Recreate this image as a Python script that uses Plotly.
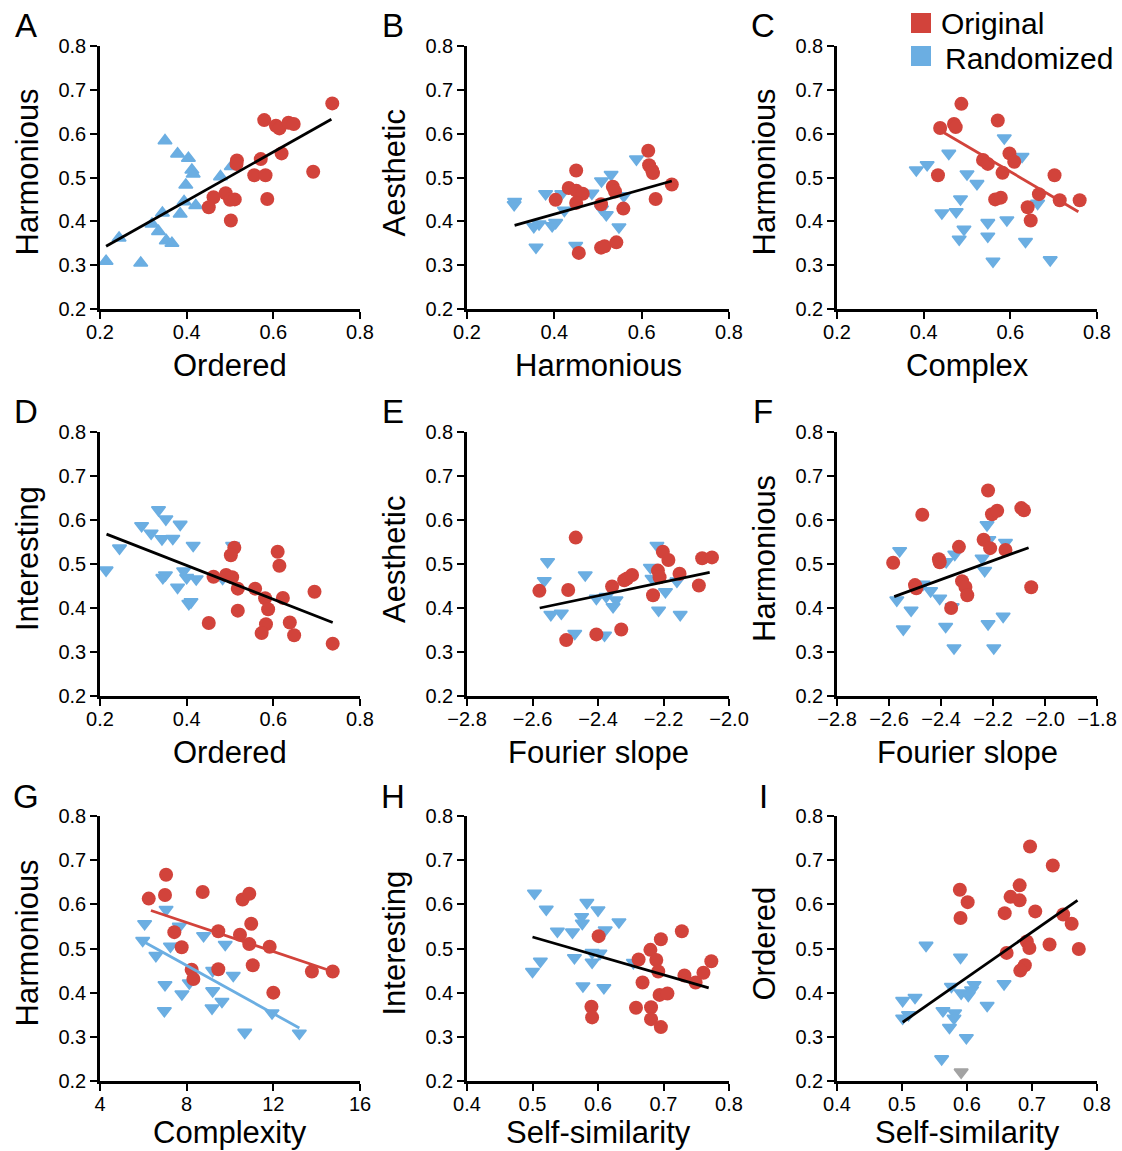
import plotly.graph_objects as go

# ---------------- DATA ----------------
# Panel A: Ordered (x) vs Harmonious (y)
A_orig_x = [0.736, 0.579, 0.606, 0.614, 0.635, 0.647, 0.619, 0.571, 0.516, 0.515, 0.556, 0.582, 0.692, 0.490, 0.462, 0.451, 0.500, 0.511, 0.586, 0.502]
A_orig_y = [0.669, 0.631, 0.618, 0.612, 0.625, 0.622, 0.555, 0.542, 0.539, 0.531, 0.505, 0.505, 0.513, 0.464, 0.455, 0.432, 0.449, 0.450, 0.451, 0.402]
A_rand_x = [0.350, 0.379, 0.404, 0.412, 0.415, 0.478, 0.503, 0.398, 0.394, 0.421, 0.385, 0.344, 0.320, 0.335, 0.353, 0.366, 0.244, 0.214, 0.294]
A_rand_y = [0.584, 0.554, 0.544, 0.517, 0.508, 0.502, 0.525, 0.483, 0.445, 0.436, 0.417, 0.419, 0.394, 0.377, 0.356, 0.350, 0.362, 0.309, 0.305]
A_fit_x = [0.214, 0.734]
A_fit_y = [0.343, 0.633]

# Panel B: Harmonious (x) vs Aesthetic (y)
B_orig_x = [0.615, 0.617, 0.624, 0.626, 0.669, 0.632, 0.450, 0.433, 0.450, 0.465, 0.403, 0.450, 0.507, 0.534, 0.539, 0.558, 0.542, 0.507, 0.515, 0.456]
B_orig_y = [0.561, 0.528, 0.516, 0.510, 0.484, 0.451, 0.516, 0.476, 0.470, 0.463, 0.449, 0.442, 0.439, 0.479, 0.468, 0.429, 0.352, 0.340, 0.343, 0.328]
B_rand_x = [0.588, 0.530, 0.508, 0.486, 0.441, 0.417, 0.380, 0.309, 0.308, 0.423, 0.508, 0.519, 0.559, 0.548, 0.403, 0.395, 0.365, 0.353, 0.358, 0.449]
B_rand_y = [0.542, 0.507, 0.492, 0.464, 0.476, 0.463, 0.463, 0.445, 0.438, 0.425, 0.428, 0.415, 0.458, 0.387, 0.397, 0.390, 0.394, 0.388, 0.341, 0.345]
B_fit_x = [0.309, 0.669]
B_fit_y = [0.391, 0.492]

# Panel C: Complex (x) vs Harmonious (y)
C_orig_x = [0.487, 0.438, 0.470, 0.474, 0.571, 0.598, 0.609, 0.537, 0.548, 0.582, 0.433, 0.702, 0.666, 0.714, 0.760, 0.565, 0.578, 0.640, 0.647]
C_orig_y = [0.668, 0.613, 0.622, 0.615, 0.630, 0.555, 0.536, 0.540, 0.531, 0.511, 0.505, 0.505, 0.462, 0.448, 0.448, 0.450, 0.454, 0.432, 0.402]
C_rand_x = [0.586, 0.627, 0.458, 0.383, 0.408, 0.500, 0.523, 0.485, 0.442, 0.475, 0.493, 0.482, 0.548, 0.548, 0.592, 0.663, 0.635, 0.560, 0.692]
C_rand_y = [0.590, 0.548, 0.555, 0.517, 0.529, 0.508, 0.486, 0.451, 0.419, 0.422, 0.382, 0.359, 0.397, 0.366, 0.403, 0.441, 0.354, 0.309, 0.312]
C_fit_x = [0.447, 0.757]
C_fit_y = [0.602, 0.422]

# Panel D: Ordered (x) vs Interesting (y)
D_orig_x = [0.510, 0.502, 0.610, 0.614, 0.462, 0.491, 0.505, 0.518, 0.558, 0.581, 0.622, 0.695, 0.588, 0.518, 0.451, 0.583, 0.573, 0.638, 0.648, 0.737]
D_orig_y = [0.537, 0.520, 0.528, 0.496, 0.471, 0.475, 0.470, 0.444, 0.444, 0.422, 0.423, 0.437, 0.397, 0.394, 0.366, 0.363, 0.343, 0.367, 0.338, 0.319]
D_rand_x = [0.335, 0.352, 0.296, 0.318, 0.343, 0.368, 0.385, 0.415, 0.245, 0.214, 0.506, 0.351, 0.345, 0.393, 0.400, 0.422, 0.379, 0.410, 0.405, 0.483]
D_rand_y = [0.623, 0.602, 0.587, 0.570, 0.557, 0.558, 0.590, 0.542, 0.536, 0.486, 0.542, 0.475, 0.469, 0.484, 0.469, 0.466, 0.447, 0.414, 0.410, 0.467]
D_fit_x = [0.215, 0.737]
D_fit_y = [0.568, 0.367]

# Panel E: Fourier slope (x) vs Aesthetic (y)
E_orig_x = [-2.468, -2.579, -2.491, -2.497, -2.405, -2.329, -2.357, -2.320, -2.311, -2.296, -2.232, -2.217, -2.212, -2.202, -2.185, -2.151, -2.092, -2.082, -2.052]
E_orig_y = [0.560, 0.439, 0.441, 0.327, 0.340, 0.351, 0.449, 0.463, 0.467, 0.475, 0.429, 0.485, 0.470, 0.528, 0.509, 0.478, 0.451, 0.513, 0.515]
E_rand_x = [-2.220, -2.240, -2.235, -2.554, -2.564, -2.439, -2.405, -2.375, -2.345, -2.354, -2.194, -2.159, -2.544, -2.512, -2.471, -2.380, -2.215, -2.149]
E_rand_y = [0.542, 0.492, 0.467, 0.505, 0.462, 0.475, 0.422, 0.426, 0.418, 0.403, 0.437, 0.461, 0.385, 0.388, 0.342, 0.338, 0.395, 0.385]
E_fit_x = [-2.578, -2.059]
E_fit_y = [0.400, 0.481]

# Panel F: Fourier slope (x) vs Harmonious (y)
F_orig_x = [-2.219, -2.472, -2.204, -2.184, -2.091, -2.081, -2.236, -2.211, -2.331, -2.152, -2.408, -2.405, -2.584, -2.500, -2.495, -2.319, -2.306, -2.299, -2.053, -2.361]
F_orig_y = [0.667, 0.612, 0.613, 0.621, 0.627, 0.622, 0.555, 0.536, 0.539, 0.532, 0.511, 0.504, 0.503, 0.452, 0.445, 0.461, 0.448, 0.429, 0.447, 0.400]
F_rand_x = [-2.223, -2.216, -2.152, -2.559, -2.347, -2.380, -2.242, -2.232, -2.469, -2.440, -2.405, -2.570, -2.515, -2.545, -2.382, -2.357, -2.350, -2.219, -2.161, -2.197]
F_rand_y = [0.589, 0.555, 0.549, 0.530, 0.522, 0.505, 0.513, 0.485, 0.454, 0.439, 0.422, 0.418, 0.395, 0.352, 0.358, 0.403, 0.309, 0.364, 0.381, 0.309]
F_fit_x = [-2.580, -2.063]
F_fit_y = [0.426, 0.537]

# Panel G: Complexity (x) vs Harmonious (y)
G_orig_x = [7.05, 6.25, 7.00, 8.74, 10.58, 10.89, 10.98, 9.46, 10.46, 10.89, 11.83, 7.43, 7.77, 8.23, 8.31, 9.46, 11.05, 12.00, 13.78, 14.74]
G_orig_y = [0.667, 0.613, 0.621, 0.628, 0.611, 0.624, 0.556, 0.539, 0.531, 0.510, 0.504, 0.537, 0.503, 0.452, 0.431, 0.453, 0.462, 0.400, 0.448, 0.448]
G_rand_x = [7.05, 6.06, 7.66, 8.78, 9.78, 5.97, 7.25, 6.58, 10.15, 9.20, 7.00, 7.78, 8.12, 9.20, 9.63, 9.17, 6.97, 11.94, 10.68, 13.20]
G_rand_y = [0.588, 0.556, 0.550, 0.529, 0.509, 0.518, 0.505, 0.484, 0.439, 0.450, 0.418, 0.397, 0.422, 0.404, 0.380, 0.365, 0.359, 0.354, 0.310, 0.308]
G_fit_orig_x = [6.35, 14.74]
G_fit_orig_y = [0.586, 0.448]
G_fit_rand_x = [6.00, 13.20]
G_fit_rand_y = [0.516, 0.320]

# Panel H: Self-similarity (x) vs Interesting (y)
H_orig_x = [0.601, 0.728, 0.696, 0.680, 0.662, 0.689, 0.692, 0.773, 0.732, 0.749, 0.761, 0.668, 0.694, 0.706, 0.658, 0.681, 0.590, 0.591, 0.681, 0.696]
H_orig_y = [0.528, 0.539, 0.521, 0.497, 0.475, 0.474, 0.448, 0.471, 0.439, 0.423, 0.445, 0.423, 0.395, 0.398, 0.366, 0.367, 0.368, 0.344, 0.340, 0.322]
H_rand_x = [0.503, 0.521, 0.583, 0.600, 0.575, 0.576, 0.538, 0.561, 0.611, 0.632, 0.512, 0.500, 0.564, 0.591, 0.603, 0.591, 0.654, 0.577, 0.609]
H_rand_y = [0.625, 0.589, 0.604, 0.587, 0.572, 0.557, 0.539, 0.537, 0.542, 0.560, 0.471, 0.448, 0.479, 0.491, 0.489, 0.469, 0.468, 0.415, 0.411]
H_fit_x = [0.500, 0.769]
H_fit_y = [0.526, 0.411]

# Panel I: Self-similarity (x) vs Ordered (y)
I_orig_x = [0.697, 0.732, 0.681, 0.667, 0.681, 0.589, 0.601, 0.590, 0.658, 0.705, 0.748, 0.761, 0.692, 0.696, 0.727, 0.772, 0.661, 0.689, 0.682]
I_orig_y = [0.731, 0.688, 0.643, 0.617, 0.609, 0.633, 0.605, 0.569, 0.580, 0.584, 0.577, 0.556, 0.516, 0.501, 0.509, 0.499, 0.490, 0.462, 0.450]
I_rand_x = [0.537, 0.590, 0.657, 0.576, 0.611, 0.591, 0.602, 0.607, 0.501, 0.520, 0.510, 0.501, 0.631, 0.563, 0.581, 0.580, 0.573, 0.599, 0.561]
I_rand_y = [0.507, 0.480, 0.420, 0.414, 0.418, 0.399, 0.394, 0.406, 0.382, 0.389, 0.350, 0.342, 0.371, 0.359, 0.354, 0.342, 0.321, 0.298, 0.250]
I_gray_x = [0.591]
I_gray_y = [0.220]
I_fit_x = [0.501, 0.770]
I_fit_y = [0.333, 0.609]

# Axis titles / tick labels
letters = ["A", "B", "C", "D", "E", "F", "G", "H", "I"]
x_titles = ["Ordered", "Harmonious", "Complex", "Ordered", "Fourier slope", "Fourier slope",
            "Complexity", "Self-similarity", "Self-similarity"]
y_titles = ["Harmonious", "Aesthetic", "Harmonious", "Interesting", "Aesthetic", "Harmonious",
            "Harmonious", "Interesting", "Ordered"]
x_ranges = [(0.2, 0.8), (0.2, 0.8), (0.2, 0.8), (0.2, 0.8), (-2.8, -2.0), (-2.8, -1.8),
            (4, 16), (0.4, 0.8), (0.4, 0.8)]
x_dticks = [0.2, 0.2, 0.2, 0.2, 0.2, 0.2, 4, 0.1, 0.1]
x_formats = [".1f", ".1f", ".1f", ".1f", ".1f", ".1f", "d", ".1f", ".1f"]
y_range = (0.2, 0.8)
y_dtick = 0.1
legend_labels = ["Original", "Randomized"]

# ---------------- STYLE ----------------
RED = "#D2433B"
BLUE = "#6BAEE2"
GRAY = "#A3A3A3"
FONT = "Liberation Sans, Arial, Helvetica, sans-serif"
W, H = 1122, 1151
col_px = [(100, 360), (467, 729), (837, 1097)]
row_px = [(46, 309), (432, 696), (816, 1081)]

panels = [
    dict(ox=A_orig_x, oy=A_orig_y, rx=A_rand_x, ry=A_rand_y, sym="triangle-up",
         fits=[(A_fit_x, A_fit_y, "black")]),
    dict(ox=B_orig_x, oy=B_orig_y, rx=B_rand_x, ry=B_rand_y, sym="triangle-down",
         fits=[(B_fit_x, B_fit_y, "black")]),
    dict(ox=C_orig_x, oy=C_orig_y, rx=C_rand_x, ry=C_rand_y, sym="triangle-down",
         fits=[(C_fit_x, C_fit_y, RED)]),
    dict(ox=D_orig_x, oy=D_orig_y, rx=D_rand_x, ry=D_rand_y, sym="triangle-down",
         fits=[(D_fit_x, D_fit_y, "black")]),
    dict(ox=E_orig_x, oy=E_orig_y, rx=E_rand_x, ry=E_rand_y, sym="triangle-down",
         fits=[(E_fit_x, E_fit_y, "black")]),
    dict(ox=F_orig_x, oy=F_orig_y, rx=F_rand_x, ry=F_rand_y, sym="triangle-down",
         fits=[(F_fit_x, F_fit_y, "black")]),
    dict(ox=G_orig_x, oy=G_orig_y, rx=G_rand_x, ry=G_rand_y, sym="triangle-down",
         fits=[(G_fit_orig_x, G_fit_orig_y, RED), (G_fit_rand_x, G_fit_rand_y, BLUE)]),
    dict(ox=H_orig_x, oy=H_orig_y, rx=H_rand_x, ry=H_rand_y, sym="triangle-down",
         fits=[(H_fit_x, H_fit_y, "black")]),
    dict(ox=I_orig_x, oy=I_orig_y, rx=I_rand_x, ry=I_rand_y, sym="triangle-down",
         fits=[(I_fit_x, I_fit_y, "black")], gray=(I_gray_x, I_gray_y)),
]

fig = go.Figure()
annotations = []
layout_axes = {}

for i, p in enumerate(panels):
    r, c = divmod(i, 3)
    n = i + 1
    xa = "x" if n == 1 else f"x{n}"
    ya = "y" if n == 1 else f"y{n}"
    xkey = "xaxis" if n == 1 else f"xaxis{n}"
    ykey = "yaxis" if n == 1 else f"yaxis{n}"
    x0, x1 = col_px[c]
    y0, y1 = row_px[r]
    common = dict(showline=True, linecolor="black", linewidth=2.6, ticks="outside",
                  ticklen=7, tickwidth=2.4, tickcolor="black", showgrid=False,
                  zeroline=False, automargin=False,
                  tickfont=dict(family=FONT, size=20, color="black"),
                  fixedrange=True)
    layout_axes[xkey] = dict(domain=[x0 / W, x1 / W], range=list(x_ranges[i]),
                             dtick=x_dticks[i], tick0=x_ranges[i][0],
                             tickformat=x_formats[i], anchor=ya,
                             ticklabelstandoff=-4, **common)
    layout_axes[ykey] = dict(domain=[1 - y1 / H, 1 - y0 / H], range=list(y_range),
                             dtick=y_dtick, tick0=0.2, tickformat=".1f", anchor=xa,
                             **common)

    # randomized (blue triangles)
    fig.add_trace(go.Scatter(x=p["rx"], y=p["ry"], mode="markers", xaxis=xa, yaxis=ya,
                             marker=dict(symbol=p["sym"], size=12, color=BLUE,
                                         line=dict(width=1.6, color=BLUE)),
                             cliponaxis=False, showlegend=False, hoverinfo="skip"))
    if "gray" in p:
        fig.add_trace(go.Scatter(x=p["gray"][0], y=p["gray"][1], mode="markers",
                                 xaxis=xa, yaxis=ya,
                                 marker=dict(symbol=p["sym"], size=12, color=GRAY,
                                             line=dict(width=1.6, color=GRAY)),
                                 cliponaxis=False, showlegend=False, hoverinfo="skip"))
    # original (red circles)
    fig.add_trace(go.Scatter(x=p["ox"], y=p["oy"], mode="markers", xaxis=xa, yaxis=ya,
                             marker=dict(symbol="circle", size=14, color=RED,
                                         line=dict(width=0)),
                             cliponaxis=False, showlegend=False, hoverinfo="skip"))
    for fx, fy, fc in p["fits"]:
        fig.add_trace(go.Scatter(x=fx, y=fy, mode="lines", xaxis=xa, yaxis=ya,
                                 line=dict(color=fc, width=2.8), cliponaxis=False,
                                 showlegend=False, hoverinfo="skip"))

    # panel letter
    annotations.append(dict(text=letters[i], x=(x0 - 74) / W, y=1 - (y0 - 20) / H,
                            xref="paper", yref="paper", showarrow=False,
                            xanchor="center", yanchor="middle",
                            font=dict(family=FONT, size=33, color="black")))
    # x title (kept inside the canvas for the bottom row)
    ty = min(y1 + 56, H - 19)
    annotations.append(dict(text=x_titles[i], x=(x0 + x1) / 2 / W, y=1 - ty / H,
                            xref="paper", yref="paper", showarrow=False,
                            xanchor="center", yanchor="middle",
                            font=dict(family=FONT, size=31, color="black")))
    # y title
    annotations.append(dict(text=y_titles[i], x=(x0 - 73) / W, y=1 - ((y0 + y1) / 2 - 5) / H,
                            xref="paper", yref="paper", showarrow=False, textangle=-90,
                            xanchor="center", yanchor="middle",
                            font=dict(family=FONT, size=31, color="black")))

# legend (squares + labels)
shapes = [
    dict(type="rect", xref="paper", yref="paper", x0=911 / W, x1=931 / W,
         y0=1 - 33 / H, y1=1 - 13 / H, fillcolor=RED, line=dict(width=0)),
    dict(type="rect", xref="paper", yref="paper", x0=911 / W, x1=931 / W,
         y0=1 - 66 / H, y1=1 - 46 / H, fillcolor=BLUE, line=dict(width=0)),
]
annotations.append(dict(text=legend_labels[0], x=939 / W, y=1 - 23 / H, xref="paper",
                        yref="paper", showarrow=False, xanchor="left", yanchor="middle",
                        font=dict(family=FONT, size=30, color="black")))
annotations.append(dict(text=legend_labels[1], x=943 / W, y=1 - 58 / H, xref="paper",
                        yref="paper", showarrow=False, xanchor="left", yanchor="middle",
                        font=dict(family=FONT, size=30, color="black")))

fig.update_layout(width=W, height=H, margin=dict(l=0, r=0, t=0, b=0),
                  plot_bgcolor="white", paper_bgcolor="white",
                  annotations=annotations, shapes=shapes, showlegend=False,
                  **layout_axes)

fig.write_html("out.html", config={"displayModeBar": False},
               post_script="document.body.style.margin='0px';document.body.style.overflow='hidden';")
